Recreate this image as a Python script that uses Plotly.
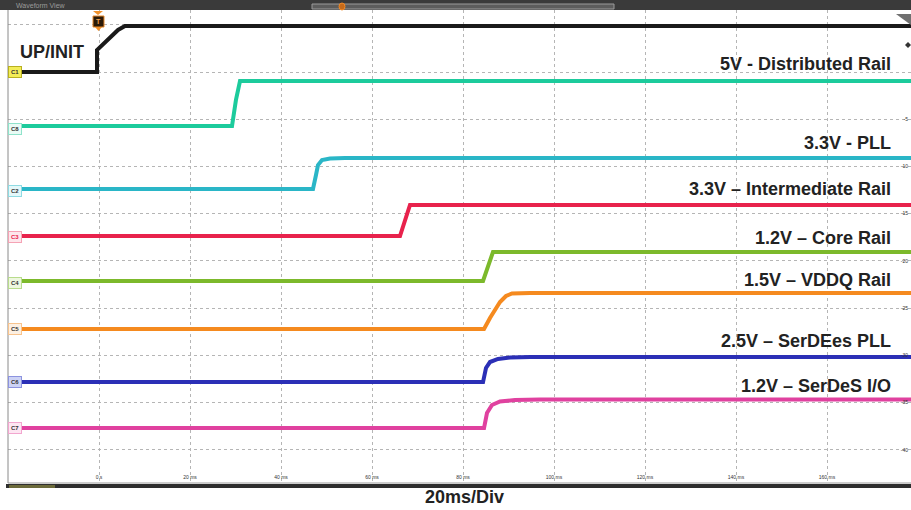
import plotly.graph_objects as go

# ---- data: time in ms, level in screen units (5 units / division) ----
c1_t = [-20, -0.44, -0.44, 4.18, 5.71, 178.5]
c1_v = [0, 0, 2.33, 4.45, 4.87, 4.87]
c8_t = [-20, 29.23, 30.10, 30.99, 178.5]
c8_v = [-5.72, -5.72, -2.96, -0.95, -0.95]
c2_t = [-20, 47.03, 47.69, 48.13, 49.01, 50.77, 54.07, 178.5]
c2_v = [-12.39, -12.39, -10.91, -9.85, -9.32, -9.16, -9.11, -9.11]
c3_t = [-20, 66.15, 68.35, 178.5]
c3_v = [-17.37, -17.37, -14.08, -14.08]
c4_t = [-20, 84.40, 86.59, 178.5]
c4_v = [-22.13, -22.13, -19.06, -19.06]
c5_t = [-20, 84.62, 85.93, 88.13, 89.45, 90.77, 94.73, 178.5]
c5_v = [-27.21, -27.21, -26.05, -24.36, -23.72, -23.45, -23.40, -23.40]
c6_t = [-20, 84.40, 85.05, 85.93, 87.69, 90.33, 94.73, 178.5]
c6_v = [-32.83, -32.83, -31.34, -30.71, -30.39, -30.23, -30.18, -30.18]
c7_t = [-20, 84.62, 85.27, 86.37, 88.13, 91.43, 96.92, 178.5]
c7_v = [-37.70, -37.70, -36.11, -35.26, -34.89, -34.73, -34.68, -34.68]

channels = ["C1", "C8", "C2", "C3", "C4", "C5", "C6", "C7"]
rail_labels = ["UP/INIT", "5V - Distributed Rail", "3.3V - PLL", "3.3V – Intermediate Rail",
               "1.2V – Core Rail", "1.5V – VDDQ Rail", "2.5V – SerDEes PLL", "1.2V – SerDeS I/O"]
label_levels = [2.12, 0.85, -7.52, -12.39, -17.58, -22.03, -28.48, -33.25]
marker_levels = [0, -6.0, -12.6, -17.5, -22.3, -27.2, -32.8, -37.7]

x_ticks = [0, 20, 40, 60, 80, 100, 120, 140, 160]
x_ticktext = ["0 s", "20 ms", "40 ms", "60 ms", "80 ms", "100 ms", "120 ms", "140 ms", "160 ms"]
y_ticks = [5, 0, -5, -10, -15, -20, -25, -30, -35, -40]
y_ticktext = ["", "", "-5", "-10", "-15", "-20", "-25", "-30", "-35", "-40"]

series_t = [c1_t, c8_t, c2_t, c3_t, c4_t, c5_t, c6_t, c7_t]
series_v = [c1_v, c8_v, c2_v, c3_v, c4_v, c5_v, c6_v, c7_v]
colors = ["#1a1a1a", "#1ccb9c", "#2ab6c7", "#e8224c", "#7cb92b", "#f58a1f", "#2b2fb6", "#e0419f"]
tag_fill = ["#f3ed58", "#e9fbf5", "#e4f8fa", "#fde7ec", "#eef7e0", "#fdf0e2", "#cdd3f5", "#fde6f2"]
tag_border = ["#b8b020", "#8fe3cb", "#8fdbe3", "#f5a3b5", "#b8dc8c", "#f8c48e", "#8c93df", "#f2a6cf"]
tag_text = ["#333333", "#333333", "#333333", "#e8224c", "#333333", "#333333", "#333333", "#333333"]

fig = go.Figure()
for ch, t, v, c in zip(channels, series_t, series_v, colors):
    fig.add_trace(go.Scatter(x=t, y=v, mode="lines", name=ch,
                             line=dict(color=c, width=4), showlegend=False, hoverinfo="skip"))

FONT = "Liberation Sans, Arial, sans-serif"
PW, PH = 903.0, 473.0


def px(x):
    return (x - 8) / PW


def py(y):
    return (483 - y) / PH


ann = []
for i, (lab, lv) in enumerate(zip(rail_labels, label_levels)):
    if i == 0:
        ann.append(dict(x=-17.8, y=lv, xref="x", yref="y", text="<b>%s</b>" % lab, showarrow=False,
                        xanchor="left", yanchor="middle", font=dict(family=FONT, size=18, color="#222")))
    else:
        ann.append(dict(x=174.5, y=lv, xref="x", yref="y", text="<b>%s</b>" % lab, showarrow=False,
                        xanchor="right", yanchor="middle", font=dict(family=FONT, size=18, color="#222")))
for ch, ml, f, b, tc in zip(channels, marker_levels, tag_fill, tag_border, tag_text):
    ann.append(dict(x=0, y=ml, xref="paper", yref="y", text="<b>%s</b>" % ch, showarrow=False,
                    xanchor="left", yanchor="middle", bgcolor=f, bordercolor=b, borderwidth=1,
                    borderpad=2, font=dict(family=FONT, size=6, color=tc)))
ann.append(dict(x=px(465), y=py(497), xref="paper", yref="paper", text="<b>20ms/Div</b>", showarrow=False,
                font=dict(family=FONT, size=18, color="#222"), xanchor="center", yanchor="middle"))
ann.append(dict(x=px(14), y=py(5), xref="paper", yref="paper", text="Waveform View", showarrow=False,
                xanchor="left", yanchor="middle",
                font=dict(family=FONT, size=7, color="#9a9a9a")))
ann.append(dict(x=px(98.5), y=py(21.5), xref="paper", yref="paper", text="<b>T</b>", showarrow=False,
                font=dict(family=FONT, size=7, color="#f0a050"), xanchor="center", yanchor="middle"))

shapes = [
    # top header bar
    dict(type="rect", xref="paper", yref="paper", x0=px(0), x1=px(911), y0=py(10), y1=py(0),
         fillcolor="#3a3a3a", line=dict(width=0), layer="above"),
    dict(type="rect", xref="paper", yref="paper", x0=px(312), x1=px(614), y0=py(9), y1=py(4),
         fillcolor="#5c5c5c", line=dict(color="#9a9a9a", width=1), layer="above"),
    dict(type="circle", xref="paper", yref="paper", x0=px(339), x1=px(345), y0=py(10), y1=py(3),
         fillcolor="#c56a1a", line=dict(color="#f08a28", width=1), layer="above"),
    # trigger marker
    dict(type="path", xref="paper", yref="paper",
         path="M %f %f L %f %f L %f %f Z" % (px(93), py(11), px(103), py(11), px(98), py(15)),
         fillcolor="#f0902a", line=dict(width=0), layer="above"),
    dict(type="rect", xref="paper", yref="paper", x0=px(93), x1=px(104), y0=py(27), y1=py(16),
         fillcolor="#2a1a08", line=dict(color="#e8892a", width=1), layer="above"),
    dict(type="path", xref="paper", yref="paper",
         path="M %f %f L %f %f L %f %f Z" % (px(95), py(27), px(102), py(27), px(98.5), py(31)),
         fillcolor="#f0902a", line=dict(width=0), layer="above"),
    # right-top marker
    dict(type="path", xref="paper", yref="paper",
         path="M %f %f L %f %f L %f %f Z" % (px(896), py(14), px(911), py(14), px(911), py(25)),
         fillcolor="#707070", line=dict(width=0), layer="above"),
    dict(type="path", xref="paper", yref="paper",
         path="M %f %f L %f %f L %f %f L %f %f Z" % (px(905), py(45), px(908), py(42), px(911), py(45), px(908), py(48)),
         fillcolor="#333333", line=dict(width=0), layer="above"),
    # left border
    dict(type="line", xref="paper", yref="paper", x0=0, x1=0, y0=0, y1=1,
         line=dict(color="#8a8a8a", width=1), layer="above"),
    # bottom bars
    dict(type="line", xref="paper", yref="paper", x0=0, x1=1, y0=0, y1=0,
         line=dict(color="#9a9a9a", width=1), layer="above"),
    dict(type="rect", xref="paper", yref="paper", x0=px(6), x1=px(911), y0=py(488), y1=py(484),
         fillcolor="#2e2e2e", line=dict(width=0), layer="above"),
    dict(type="rect", xref="paper", yref="paper", x0=px(9), x1=px(55), y0=py(488), y1=py(485),
         fillcolor="#6b6a3a", line=dict(width=0), layer="above"),
]

fig.update_layout(
    width=911, height=510, autosize=False,
    margin=dict(l=8, r=0, t=10, b=27),
    paper_bgcolor="white", plot_bgcolor="white",
    annotations=ann, shapes=shapes,
    xaxis=dict(range=[-20, 178.46], tickvals=x_ticks, ticktext=x_ticktext,
               ticklabelposition="inside", ticks="", showgrid=True, gridcolor="#b5b5b5",
               griddash="3px,3px", gridwidth=1, zeroline=False, showline=False,
               tickfont=dict(family=FONT, size=5, color="#333")),
    yaxis=dict(range=[-43.52, 6.565], tickvals=y_ticks, ticktext=y_ticktext, side="right",
               ticklabelposition="inside", ticks="", showgrid=True, gridcolor="#b5b5b5",
               griddash="3px,3px", gridwidth=1, zeroline=False, showline=False,
               tickfont=dict(family=FONT, size=5, color="#333")),
)

fig.write_html("out.html", config={"displayModeBar": False},
               post_script="document.body.style.margin='0';")
